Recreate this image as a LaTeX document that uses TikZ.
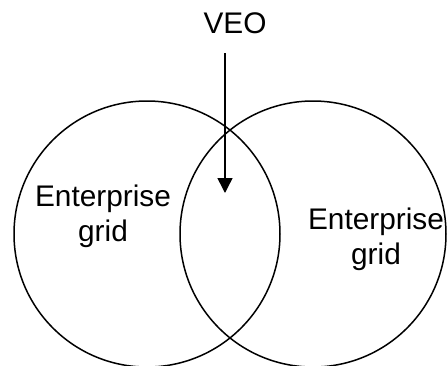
\documentclass[tikz,border=0pt]{standalone}
\usepackage{fontspec}
\setmainfont{Liberation Sans}
\usetikzlibrary{arrows.meta}
\begin{document}
\begin{tikzpicture}[x=1pt,y=-1pt,
  ring/.style={circle,draw,line width=1.5pt,minimum size=266pt,inner sep=0pt,outer sep=0pt},
  label/.style={font=\fontsize{29.8}{35.5}\selectfont,align=center,inner sep=0pt},
  pointer/.style={line width=1.5pt,-{Triangle[width=15pt,length=15pt]}}]
  \useasboundingbox (0,0) rectangle (448,365);
  % the two overlapping grids
  \node[ring] (gridA) at (147,234) {};
  \node[ring] (gridB) at (313,234) {};
  % labels
  \node[label] (textA) at (103,216.5) {Enterprise\\grid};
  \node[label] (textB) at (376,239.5) {Enterprise\\grid};
  \node[label,anchor=base] (veo) at (235,33.3) {VEO};
  % arrow into the overlap
  \coordinate (veoTail) at (225,53);
  \coordinate (veoTip) at (225,193);
  \draw[pointer] (veoTail) -- (veoTip);
\end{tikzpicture}
\end{document}
